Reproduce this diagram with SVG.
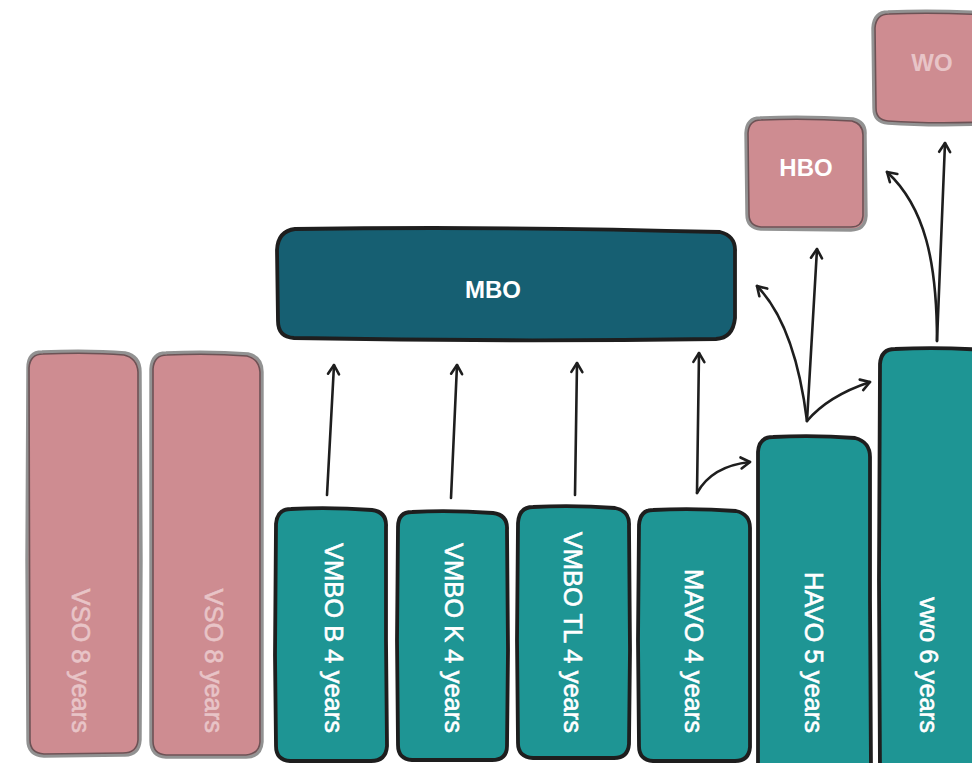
<svg xmlns="http://www.w3.org/2000/svg" width="972" height="763" viewBox="0 0 972 763">
  <style>
    .pink { fill: #ce8c91; stroke: #929292; stroke-width: 3.4; stroke-linejoin: round; }
    .pink-in { fill: none; stroke: #6c5255; stroke-width: 1.6; stroke-linejoin: round; }
    .teal { fill: #1e9594; stroke: #1e1e1e; stroke-width: 3.8; stroke-linejoin: round; }
    .navy { fill: #165f72; stroke: #1e1e1e; stroke-width: 3.8; stroke-linejoin: round; }
    .lbl { font-family: "Liberation Sans", Arial, sans-serif; font-size: 25.5px; fill: #ffffff; stroke: #ffffff; stroke-width: 0.6; }
    .lbl-soft { font-family: "Liberation Sans", Arial, sans-serif; font-size: 25.5px; fill: #e8c4c7; stroke: #e8c4c7; stroke-width: 0.6; }
    .title { font-family: "Liberation Sans", Arial, sans-serif; font-size: 24px; font-weight: bold; fill: #ffffff; text-anchor: middle; }
    .title-soft { font-family: "Liberation Sans", Arial, sans-serif; font-size: 24px; font-weight: bold; fill: #e8c4c7; text-anchor: middle; }
    .arrow { fill: none; stroke: #1e1e1e; stroke-width: 2.6; stroke-linecap: round; marker-end: url(#head); }
  </style>
  <defs>
    <marker id="head" viewBox="-12 -8 14 16" refX="0" refY="0" markerWidth="14" markerHeight="16" markerUnits="userSpaceOnUse" orient="auto">
      <path d="M-9,-5.5 L0,0 L-9,5.5" fill="none" stroke="#1e1e1e" stroke-width="2.6" stroke-linecap="round" stroke-linejoin="round"/>
    </marker>
  </defs>

  <rect width="972" height="763" fill="#ffffff"/>

  <!-- VSO columns -->
  <g id="vso-1">
    <path class="pink" d="M42,352 Q90,350 125,353 Q140,356 140,372 L141,560 L140,740 Q139,756 123,755 L44,756 Q28,755 28,740 L27,560 L28,368 Q28,352 42,352 Z"/>
    <path class="pink-in" d="M43,354 Q90,352 124,355 Q137,358 138,372 L138,740 Q137,753 123,753 L44,754 Q30,753 30,740 L29,368 Q30,354 43,354 Z"/>
    <text class="lbl-soft" transform="translate(72,733) rotate(90)" text-anchor="end">VSO 8 years</text>
  </g>
  <g id="vso-2">
    <path class="pink" d="M166,353 Q210,351 248,354 Q262,357 262,372 L262,560 L262,742 Q261,757 246,757 L166,757 Q151,756 151,741 L151,560 L151,369 Q152,353 166,353 Z"/>
    <path class="pink-in" d="M167,355 Q210,353 247,356 Q259,359 260,372 L260,742 Q259,754 246,755 L166,755 Q153,754 153,741 L153,369 Q154,355 167,355 Z"/>
    <text class="lbl-soft" transform="translate(205,733) rotate(90)" text-anchor="end">VSO 8 years</text>
  </g>

  <!-- Secondary tracks -->
  <g id="vmbo-b">
    <path class="teal" d="M291,509 Q330,507 372,510 Q387,512 386,527 L386,640 L387,746 Q386,761 371,761 L290,761 Q276,760 276,746 L275,655 L276,524 Q277,509 291,509 Z"/>
    <text class="lbl" transform="translate(325,733) rotate(90)" text-anchor="end">VMBO B 4 years</text>
  </g>
  <g id="vmbo-k">
    <path class="teal" d="M412,512 Q450,510 493,513 Q508,515 507,530 L508,650 L507,746 Q507,760 492,760 L412,760 Q398,759 398,745 L397,640 L398,527 Q398,512 412,512 Z"/>
    <text class="lbl" transform="translate(445,733) rotate(90)" text-anchor="end">VMBO K 4 years</text>
  </g>
  <g id="vmbo-tl">
    <path class="teal" d="M533,507 Q575,505 615,508 Q630,511 629,526 L630,650 L629,744 Q628,758 614,758 L533,758 Q518,757 518,743 L517,640 L518,523 Q519,507 533,507 Z"/>
    <text class="lbl" transform="translate(564,733) rotate(90)" text-anchor="end">VMBO TL 4 years</text>
  </g>
  <g id="mavo">
    <path class="teal" d="M653,510 Q695,508 736,511 Q750,514 750,528 L750,650 L750,747 Q749,761 735,761 L653,761 Q639,760 639,746 L638,640 L639,525 Q640,510 653,510 Z"/>
    <text class="lbl" transform="translate(685,733) rotate(90)" text-anchor="end">MAVO 4 years</text>
  </g>
  <g id="havo">
    <path class="teal" d="M773,437 Q815,435 855,438 Q870,442 870,457 L870,600 L871,770 L758,770 L758,620 L758,452 Q759,437 773,437 Z"/>
    <text class="lbl" transform="translate(805,733) rotate(90)" text-anchor="end">HAVO 5 years</text>
  </g>
  <g id="vwo">
    <path class="teal" d="M895,349 Q940,347 985,350 L985,775 L880,775 L879,580 L880,364 Q881,349 895,349 Z"/>
    <text class="lbl" transform="translate(920,733) rotate(90)" text-anchor="end">vwo 6 years</text>
  </g>

  <!-- Follow-up education -->
  <g id="mbo">
    <path class="navy" d="M295,229 Q500,226 720,232 Q736,236 735,252 L735,318 Q733,338 716,339 Q500,342 294,338 Q278,337 278,321 L277,250 Q278,231 295,229 Z"/>
    <text class="title" x="493" y="298">MBO</text>
  </g>
  <g id="hbo">
    <path class="pink" d="M760,118 Q805,116 853,119 Q866,122 865,135 L866,216 Q865,230 851,230 L761,229 Q747,228 747,214 L746,133 Q747,118 760,118 Z"/>
    <path class="pink-in" d="M761,120 Q805,118 852,121 Q863,124 863,135 L863,216 Q862,227 851,227 L761,227 Q749,226 749,214 L748,133 Q749,120 761,120 Z"/>
    <text class="title" x="806" y="176">HBO</text>
  </g>
  <g id="wo">
    <path class="pink" d="M888,12 Q935,10 985,13 L985,124 Q930,126 888,123 Q874,122 874,108 L873,28 Q874,12 888,12 Z"/>
    <path class="pink-in" d="M889,14 Q935,12 985,15 L985,122 Q930,124 888,121 Q876,120 876,108 L875,28 Q876,14 889,14 Z"/>
    <text class="title-soft" x="932" y="71">WO</text>
  </g>

  <!-- Transitions -->
  <g id="connectors">
    <path class="arrow" d="M327,495 L334,365"/>
    <path class="arrow" d="M451,498 L457,365"/>
    <path class="arrow" d="M575,495 L577,363"/>
    <path class="arrow" d="M697,493 L699,353"/>
    <path class="arrow" d="M697,493 Q712,466 750,462"/>
    <path class="arrow" d="M807,421 Q795,325 757,286"/>
    <path class="arrow" d="M807,421 L817,249"/>
    <path class="arrow" d="M807,421 Q828,396 870,382"/>
    <path class="arrow" d="M937,341 L945,143"/>
    <path class="arrow" d="M937,341 C937,262 925,207 887,172"/>
  </g>
</svg>
